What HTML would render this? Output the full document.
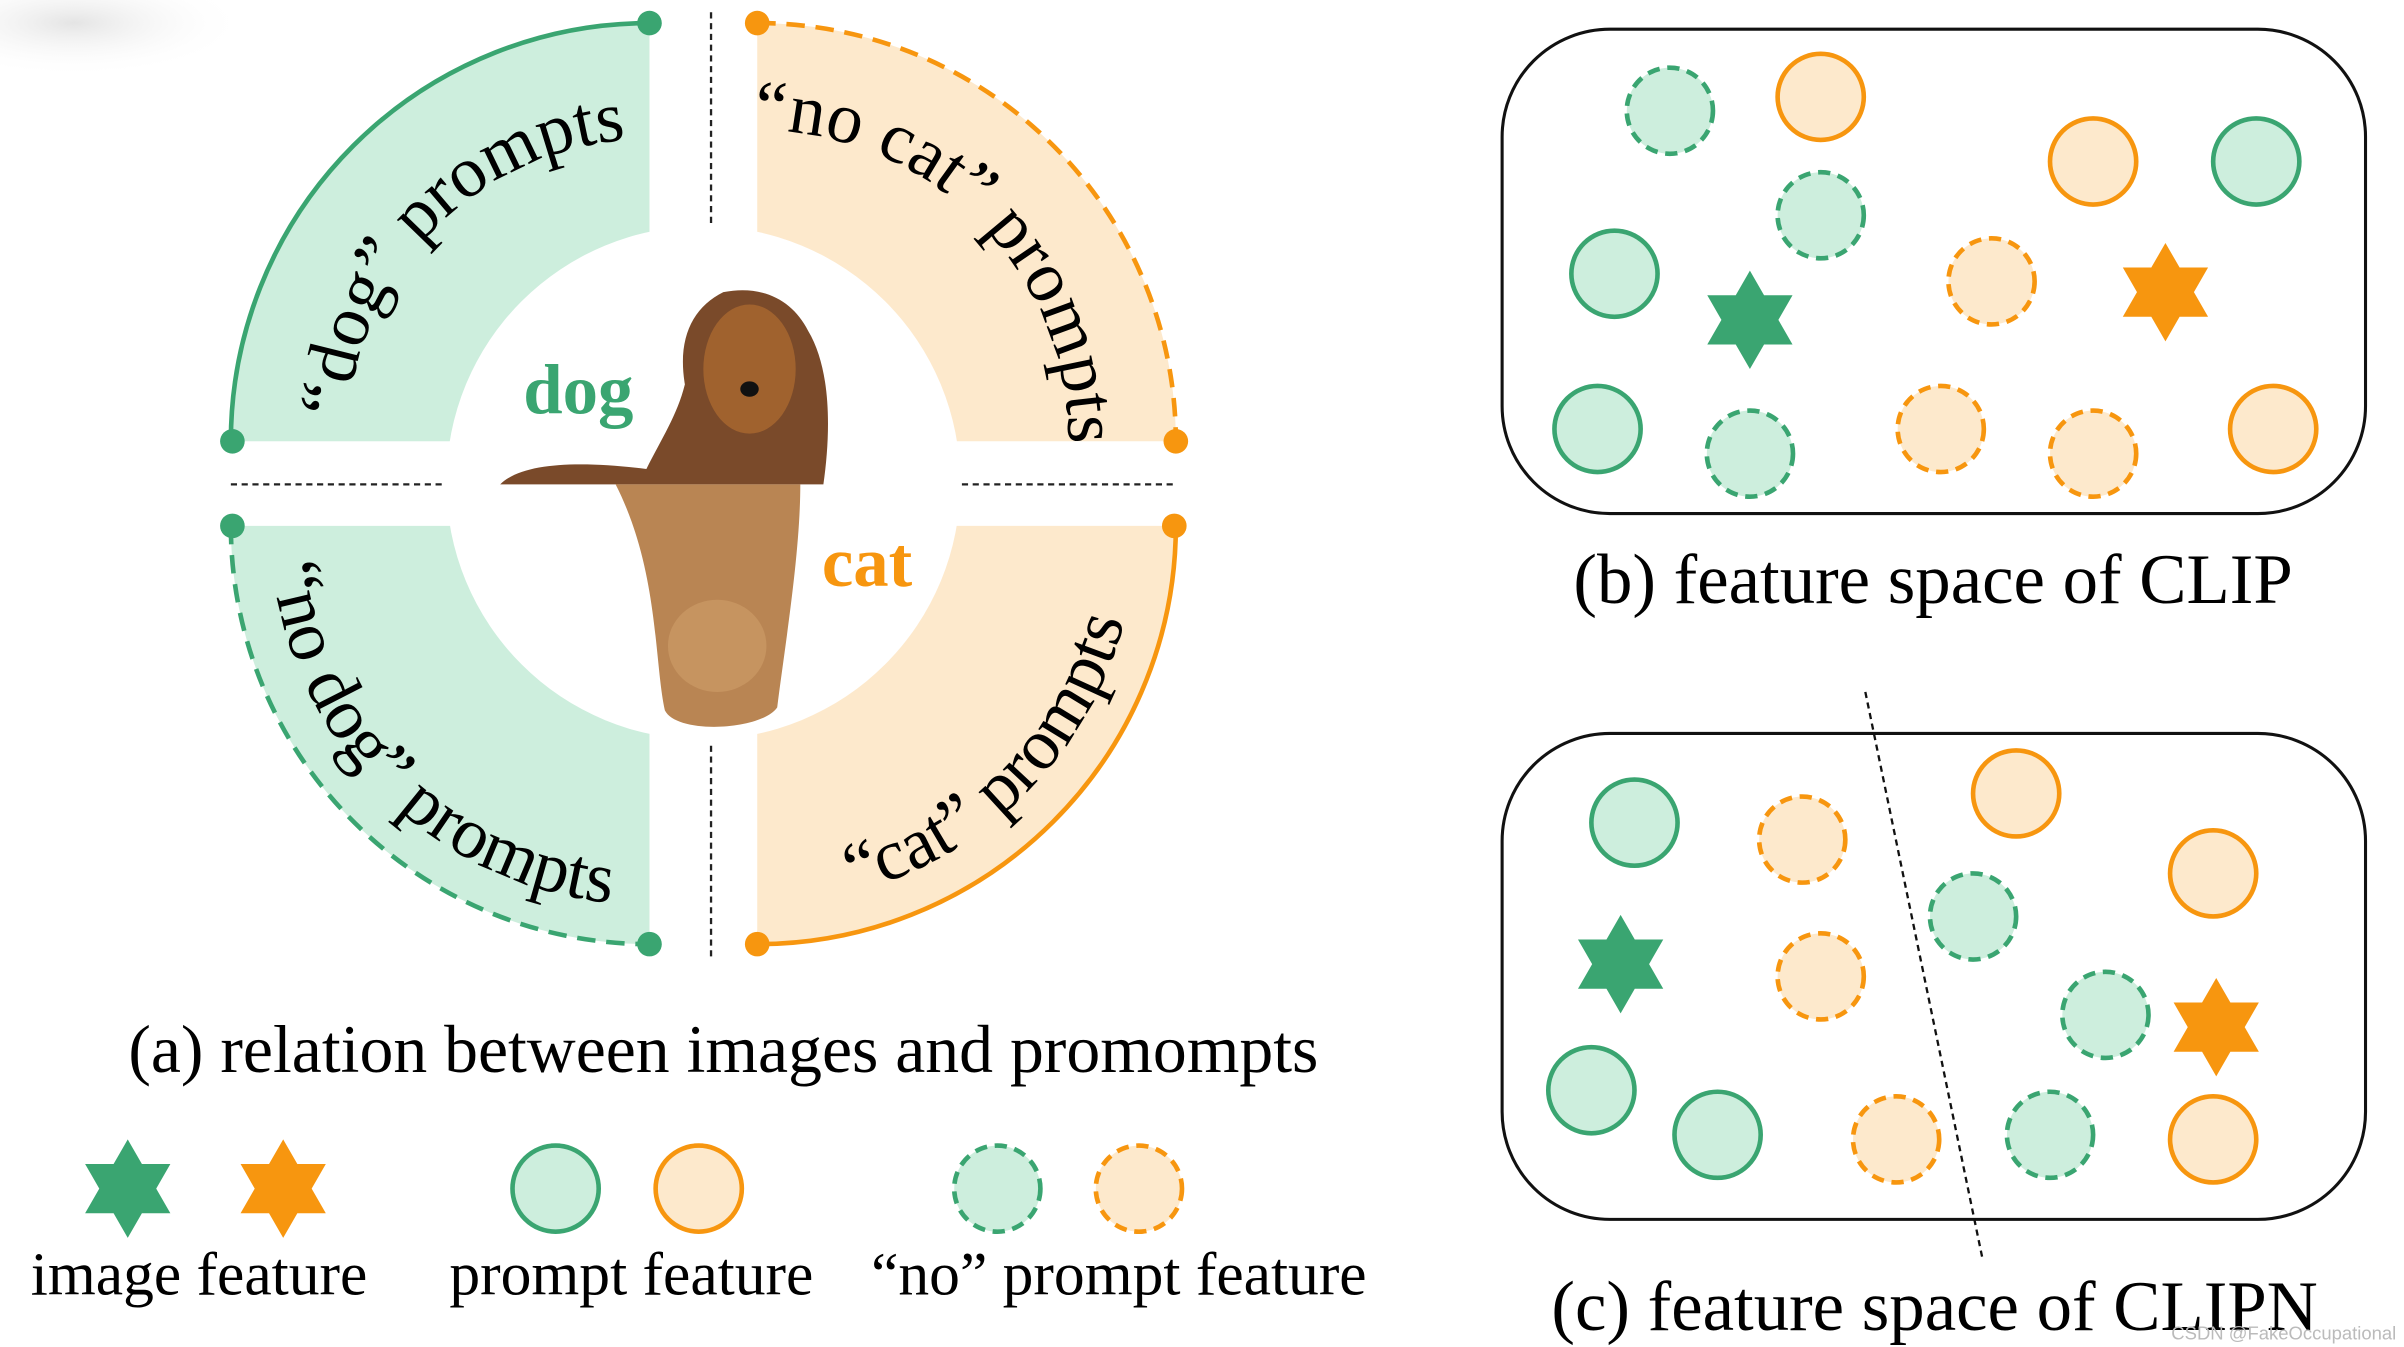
<!DOCTYPE html>
<html><head><meta charset="utf-8"><style>
html,body{margin:0;padding:0;background:#fff;width:2404px;height:1347px;overflow:hidden}
svg{display:block}
text{font-family:"Liberation Serif",serif}
</style></head><body>
<svg width="2404" height="1347" viewBox="0 0 1562 876" preserveAspectRatio="none" xmlns="http://www.w3.org/2000/svg">
<defs>
<radialGradient id="sm" cx="0.3" cy="0.3" r="0.7"><stop offset="0" stop-color="#e4e4e4"/><stop offset="1" stop-color="#fff" stop-opacity="0"/></radialGradient>
<path id="pTL" d="M237,354 A197,197 0 0 1 489,102"/>
<path id="pTR" d="M423,97 A202,202 0 0 1 682,356"/>
<path id="pBL" d="M190,258 A247,247 0 0 0 506,574"/>
<path id="pBR" d="M408,574 A247,247 0 0 0 724,258"/>
<g id="star"><polygon points="0,-32 9.2,-16 27.7,-16 18.5,0 27.7,16 9.2,16 0,32 -9.2,16 -27.7,16 -18.5,0 -27.7,-16 -9.2,-16"/></g>
</defs>
<rect x="0" y="0" width="160" height="50" fill="url(#sm)"/>
<path d="M422,287 L150,287 A272,272 0 0 1 422,15 Z" fill="#cdeedd"/>
<path d="M150,287 A272,272 0 0 1 422,15" fill="none" stroke="#3aa571" stroke-width="3"/>
<path d="M492,287 L492,15 A272,272 0 0 1 764,287 Z" fill="#fde9cc"/>
<path d="M492,15 A272,272 0 0 1 764,287" fill="none" stroke="#f7960f" stroke-width="3" stroke-dasharray="12,7"/>
<path d="M422,342 L150,342 A272,272 0 0 0 422,614 Z" fill="#cdeedd"/>
<path d="M150,342 A272,272 0 0 0 422,614" fill="none" stroke="#3aa571" stroke-width="3" stroke-dasharray="12,7"/>
<path d="M492,342 L492,614 A272,272 0 0 0 764,342 Z" fill="#fde9cc"/>
<path d="M492,614 A272,272 0 0 0 764,342" fill="none" stroke="#f7960f" stroke-width="3"/>
<circle cx="457" cy="314" r="167" fill="#fff"/>
<g fill="#3aa571"><circle cx="151" cy="287" r="8"/><circle cx="422" cy="15" r="8"/><circle cx="151" cy="342" r="8"/><circle cx="422" cy="614" r="8"/></g>
<g fill="#f7960f"><circle cx="492" cy="15" r="8"/><circle cx="764" cy="287" r="8"/><circle cx="763" cy="342" r="8"/><circle cx="492" cy="614" r="8"/></g>
<g stroke="#222" stroke-width="1.5" stroke-dasharray="4,3"><line x1="462" y1="8" x2="462" y2="148"/><line x1="462" y1="485" x2="462" y2="622"/><line x1="150" y1="315" x2="290" y2="315"/><line x1="625" y1="315" x2="765" y2="315"/></g>
<text font-size="47"><textPath href="#pTL" startOffset="50%" text-anchor="middle">“dog” prompts</textPath></text>
<text font-size="47"><textPath href="#pTR" startOffset="50%" text-anchor="middle">“no cat” prompts</textPath></text>
<text font-size="47"><textPath href="#pBL" startOffset="50%" text-anchor="middle">“no dog” prompts</textPath></text>
<text font-size="47"><textPath href="#pBR" startOffset="50%" text-anchor="middle">“cat” prompts</textPath></text>
<path d="M325,315 C340,300 380,300 420,305 C430,285 440,270 445,250 C440,220 450,200 470,190 C495,185 515,195 525,215 C540,240 540,280 535,315 Z" fill="#7a4a2a"/>
<ellipse cx="487" cy="240" rx="30" ry="42" fill="#a0622e"/>
<ellipse cx="487" cy="253" rx="6" ry="5" fill="#111"/>
<path d="M400,315 L520,315 C520,360 510,420 505,460 C495,475 440,478 432,462 C425,430 428,370 400,315 Z" fill="#b98553"/>
<ellipse cx="466" cy="420" rx="32" ry="30" fill="#c69460"/>
<text x="340" y="269" font-size="46" font-weight="bold" fill="#3aa571">dog</text>
<text x="534" y="381" font-size="46" font-weight="bold" fill="#f7960f">cat</text>
<text x="470" y="697" font-size="44" text-anchor="middle">(a) relation between images and promompts</text>
<use href="#star" x="83" y="773" fill="#3aa571"/>
<use href="#star" x="184" y="773" fill="#f7960f"/>
<circle cx="361" cy="773" r="28" fill="#cdeedd" stroke="#3aa571" stroke-width="3"/>
<circle cx="454" cy="773" r="28" fill="#fde9cc" stroke="#f7960f" stroke-width="3"/>
<circle cx="648" cy="773" r="28" fill="#cdeedd" stroke="#3aa571" stroke-width="3" stroke-dasharray="8,5"/>
<circle cx="740" cy="773" r="28" fill="#fde9cc" stroke="#f7960f" stroke-width="3" stroke-dasharray="8,5"/>
<text x="20" y="842" font-size="40">image feature</text>
<text x="292" y="842" font-size="40">prompt feature</text>
<text x="566" y="842" font-size="40">“no” prompt feature</text>
<rect x="976" y="19" width="561" height="315" rx="70" fill="none" stroke="#111" stroke-width="2"/>
<g stroke-width="3">
<g fill="#cdeedd" stroke="#3aa571">
<circle cx="1466" cy="105" r="28"/><circle cx="1049" cy="178" r="28"/><circle cx="1038" cy="279" r="28"/>
<g stroke-dasharray="8,5"><circle cx="1085" cy="72" r="28"/><circle cx="1183" cy="140" r="28"/><circle cx="1137" cy="295" r="28"/></g>
</g>
<g fill="#fde9cc" stroke="#f7960f">
<circle cx="1183" cy="63" r="28"/><circle cx="1360" cy="105" r="28"/><circle cx="1477" cy="279" r="28"/>
<g stroke-dasharray="8,5"><circle cx="1294" cy="183" r="28"/><circle cx="1261" cy="279" r="28"/><circle cx="1360" cy="295" r="28"/></g>
</g>
</g>
<use href="#star" x="1137" y="208" fill="#3aa571"/>
<use href="#star" x="1407" y="190" fill="#f7960f"/>
<text x="1256" y="392" font-size="46" text-anchor="middle">(b) feature space of CLIP</text>
<rect x="976" y="477" width="561" height="316" rx="70" fill="none" stroke="#111" stroke-width="2"/>
<line x1="1212" y1="450" x2="1288" y2="818" stroke="#111" stroke-width="1.5" stroke-dasharray="4,3"/>
<g stroke-width="3">
<g fill="#cdeedd" stroke="#3aa571">
<circle cx="1062" cy="535" r="28"/><circle cx="1034" cy="709" r="28"/><circle cx="1116" cy="738" r="28"/>
<g stroke-dasharray="8,5"><circle cx="1282" cy="596" r="28"/><circle cx="1368" cy="660" r="28"/><circle cx="1332" cy="738" r="28"/></g>
</g>
<g fill="#fde9cc" stroke="#f7960f">
<circle cx="1310" cy="516" r="28"/><circle cx="1438" cy="568" r="28"/><circle cx="1438" cy="741" r="28"/>
<g stroke-dasharray="8,5"><circle cx="1171" cy="546" r="28"/><circle cx="1183" cy="635" r="28"/><circle cx="1232" cy="741" r="28"/></g>
</g>
</g>
<use href="#star" x="1053" y="627" fill="#3aa571"/>
<use href="#star" x="1440" y="668" fill="#f7960f"/>
<text x="1257" y="865" font-size="46" text-anchor="middle">(c) feature space of CLIPN</text>
<text x="1557" y="871" font-size="12" fill="#bbb" text-anchor="end" style="font-family:'Liberation Sans',sans-serif">CSDN @FakeOccupational</text>
</svg>
</body></html>
